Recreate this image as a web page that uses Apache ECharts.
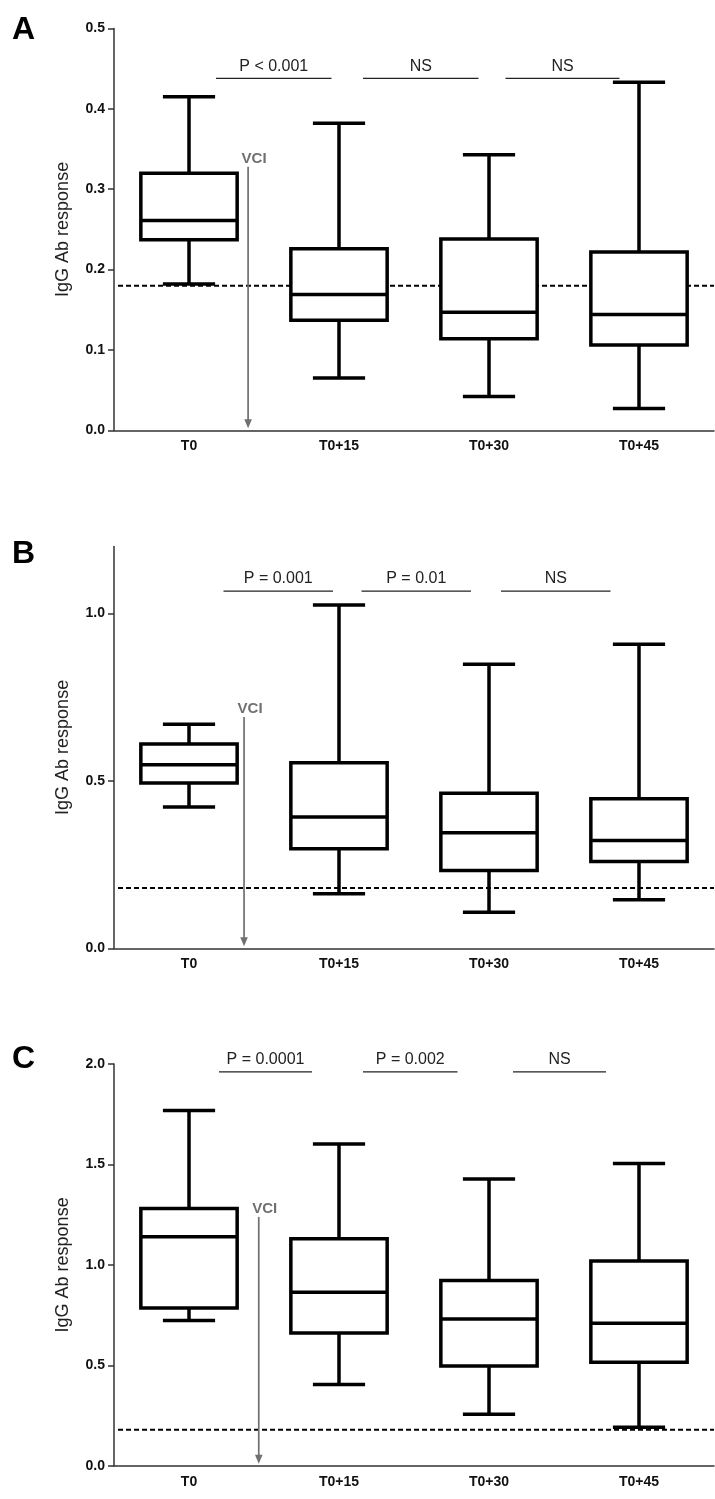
<!DOCTYPE html>
<html><head><meta charset="utf-8">
<script src="https://cdn.jsdelivr.net/npm/echarts@6/dist/echarts.min.js"></script>
<style>html,body{margin:0;padding:0;background:#fff}#c{width:715px;height:1499px}</style>
</head><body><div id="c"></div>
<script>
// ---------- data ----------
const categories = ['T0', 'T0+15', 'T0+30', 'T0+45'];
const panelLetters = ['A', 'B', 'C'];
const yTitle = 'IgG Ab response';
// [min, q1, median, q3, max]
const boxA = [[0.182, 0.237, 0.261, 0.320, 0.415], [0.065, 0.137, 0.169, 0.226, 0.382], [0.042, 0.114, 0.147, 0.238, 0.343], [0.027, 0.106, 0.144, 0.222, 0.433]];
const boxB = [[0.422, 0.494, 0.548, 0.610, 0.669], [0.163, 0.297, 0.392, 0.554, 1.025], [0.108, 0.232, 0.345, 0.463, 0.848], [0.145, 0.259, 0.322, 0.447, 0.908]];
const boxC = [[0.723, 0.786, 1.140, 1.281, 1.768], [0.405, 0.661, 0.864, 1.130, 1.602], [0.257, 0.497, 0.731, 0.922, 1.427], [0.192, 0.515, 0.709, 1.020, 1.505]];
const cutoff = 0.18;
const yMaxA = 0.5, yMaxB = 1.2, yMaxC = 2.0;
const yTicksA = [0, 0.1, 0.2, 0.3, 0.4, 0.5];
const yTicksB = [0, 0.5, 1.0];
const yTicksC = [0, 0.5, 1.0, 1.5, 2.0];
const sigLabelsA = ['P < 0.001', 'NS', 'NS'];
const sigLabelsB = ['P = 0.001', 'P = 0.01', 'NS'];
const sigLabelsC = ['P = 0.0001', 'P = 0.002', 'NS'];
const sigLevelA = 0.438, sigLevelB = 1.067, sigLevelC = 1.961;
const vciLabel = 'VCI';
const vciTopA = 0.328, vciTopB = 0.691, vciTopC = 1.239;

// ---------- layout (positions in category-band fractions) ----------
const sigSpansA = [[0.18, 0.95], [1.16, 1.93], [2.11, 2.87]];
const sigSpansB = [[0.23, 0.96], [1.15, 1.88], [2.08, 2.81]];
const sigSpansC = [[0.20, 0.82], [1.16, 1.79], [2.16, 2.78]];
const vciPosA = 0.394, vciPosB = 0.367, vciPosC = 0.465;

const panels = [
  {box: boxA, max: yMaxA, ticks: yTicksA, sig: sigLabelsA, sigY: sigLevelA, spans: sigSpansA, vciTop: vciTopA, vciPos: vciPosA, top: 28.5},
  {box: boxB, max: yMaxB, ticks: yTicksB, sig: sigLabelsB, sigY: sigLevelB, spans: sigSpansB, vciTop: vciTopB, vciPos: vciPosB, top: 546.5},
  {box: boxC, max: yMaxC, ticks: yTicksC, sig: sigLabelsC, sigY: sigLevelC, spans: sigSpansC, vciTop: vciTopC, vciPos: vciPosC, top: 1064}
];
const letterTops = [9, 533, 1038];
const gridH = 401.8;
const FONT = 'Liberation Sans, Arial, sans-serif';
const AX = '#333';
const GRAY = '#707070';

const grid = [], xAxis = [], yAxis = [], series = [], title = [];
panels.forEach((p, i) => {
  grid.push({left: 114, right: 1, top: p.top, height: gridH});
  title.push({text: panelLetters[i], left: 7, top: letterTops[i],
    textStyle: {fontFamily: FONT, fontSize: 32, fontWeight: 'bold', color: '#000'}});
  xAxis.push({type: 'category', gridIndex: i, data: categories, boundaryGap: true,
    axisLine: {lineStyle: {color: AX, width: 1.5}},
    axisTick: {alignWithLabel: true, length: 7, lineStyle: {color: AX, width: 1.5}},
    axisLabel: {margin: 9, color: '#111', fontFamily: FONT, fontWeight: 'bold', fontSize: 14},
    splitLine: {show: false}});
  yAxis.push({type: 'value', gridIndex: i, min: 0, max: p.max,
    name: yTitle, nameLocation: 'middle', nameGap: 42,
    nameTextStyle: {fontFamily: FONT, fontSize: 18, color: '#222'},
    axisLine: {show: true, lineStyle: {color: AX, width: 1.5}},
    axisTick: {show: true, length: 6, customValues: p.ticks, lineStyle: {color: AX, width: 1.5}},
    axisLabel: {customValues: p.ticks, margin: 9, color: '#111', fontFamily: FONT, fontWeight: 'bold', fontSize: 14,
      formatter: v => v.toFixed(1)},
    splitLine: {show: false}});

  // cutoff dashed line
  series.push({type: 'custom', xAxisIndex: i, yAxisIndex: i, z: 1, silent: true,
    data: [[0, cutoff]], encode: {x: 0, y: 1},
    renderItem: (params, api) => {
      const y = api.coord([0, api.value(1)])[1];
      const cs = params.coordSys;
      return {type: 'line', shape: {x1: cs.x + 4, y1: y, x2: cs.x + cs.width, y2: y},
        style: {stroke: '#000', lineWidth: 2, lineDash: [5, 3]}};
    }});

  // VCI arrow
  series.push({type: 'custom', xAxisIndex: i, yAxisIndex: i, z: 2, silent: true,
    data: [[0, p.vciTop]], encode: {x: 0, y: 1},
    renderItem: (params, api) => {
      const band = api.size([1, 0])[0];
      const c0 = api.coord([0, api.value(1)]);
      const x = c0[0] + p.vciPos * band;
      const yTop = c0[1];
      const yBot = api.coord([0, 0])[1] - 2;
      return {type: 'group', children: [
        {type: 'line', shape: {x1: x, y1: yTop, x2: x, y2: yBot - 6}, style: {stroke: GRAY, lineWidth: 1.7}},
        {type: 'polygon', shape: {points: [[x - 3.8, yBot - 9], [x + 3.8, yBot - 9], [x, yBot]]}, style: {fill: GRAY}},
        {type: 'text', style: {text: vciLabel, x: x + 6, y: yTop - 8, align: 'center', verticalAlign: 'middle',
          font: 'bold 15px ' + FONT, fill: GRAY}}
      ]};
    }});

  // boxplots
  series.push({type: 'custom', xAxisIndex: i, yAxisIndex: i, z: 3, silent: true,
    data: p.box.map((b, k) => [k].concat(b)), encode: {x: 0, y: [1, 2, 3, 4, 5]},
    renderItem: (params, api) => {
      const k = api.value(0);
      const band = api.size([1, 0])[0];
      const cx = api.coord([k, 0])[0];
      const yv = [1, 2, 3, 4, 5].map(d => api.coord([k, api.value(d)])[1]);
      const bw = band * 0.642, cw = band * 0.348;
      const st = {stroke: '#000', lineWidth: 3.5};
      return {type: 'group', children: [
        {type: 'line', shape: {x1: cx, y1: yv[4], x2: cx, y2: yv[3]}, style: st},
        {type: 'line', shape: {x1: cx, y1: yv[1], x2: cx, y2: yv[0]}, style: st},
        {type: 'line', shape: {x1: cx - cw / 2, y1: yv[4], x2: cx + cw / 2, y2: yv[4]}, style: st},
        {type: 'line', shape: {x1: cx - cw / 2, y1: yv[0], x2: cx + cw / 2, y2: yv[0]}, style: st},
        {type: 'rect', shape: {x: cx - bw / 2, y: yv[3], width: bw, height: yv[1] - yv[3]},
          style: {fill: '#fff', stroke: '#000', lineWidth: 3.5}},
        {type: 'line', shape: {x1: cx - bw / 2, y1: yv[2], x2: cx + bw / 2, y2: yv[2]}, style: st}
      ]};
    }});

  // significance bars
  series.push({type: 'custom', xAxisIndex: i, yAxisIndex: i, z: 4, silent: true,
    data: p.spans.map(s => [0, p.sigY]), encode: {x: 0, y: 1},
    renderItem: (params, api) => {
      const j = params.dataIndex;
      const band = api.size([1, 0])[0];
      const c = api.coord([0, api.value(1)]);
      const x1 = c[0] + p.spans[j][0] * band, x2 = c[0] + p.spans[j][1] * band;
      return {type: 'group', children: [
        {type: 'line', shape: {x1: x1, y1: c[1], x2: x2, y2: c[1]}, style: {stroke: '#222', lineWidth: 1.2}},
        {type: 'text', style: {text: p.sig[j], x: (x1 + x2) / 2, y: c[1] - 4, align: 'center', verticalAlign: 'bottom',
          font: '16px ' + FONT, fill: '#222'}}
      ]};
    }});
});

const chart = echarts.init(document.getElementById('c'), null, {renderer: 'canvas'});
chart.setOption({animation: false, backgroundColor: '#fff', title, grid, xAxis, yAxis, series});
</script></body></html>
